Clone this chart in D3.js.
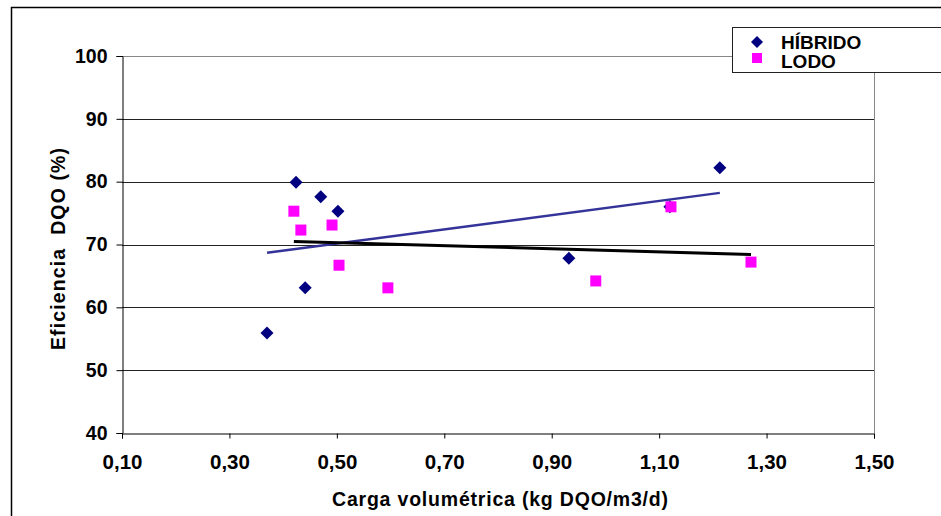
<!DOCTYPE html>
<html>
<head>
<meta charset="utf-8">
<script src="https://cdn.jsdelivr.net/npm/d3@7"></script>
<style>
  html, body { margin: 0; padding: 0; background: #fff; }
  svg { display: block; font-family: "Liberation Sans", Arial, sans-serif; font-weight: bold; }
</style>
</head>
<body>
<svg id="chart" width="941" height="516"></svg>
<script>
// Carga volumétrica (kg DQO/m3/d) vs eficiencia de remoción DQO (%)
const hibridoX = [0.370, 0.424, 0.470, 0.502, 0.441, 0.932, 1.120, 1.213];
const hibridoY = [55.9, 79.9, 77.6, 75.3, 63.1, 67.8, 76.0, 82.2];
const lodoX = [0.420, 0.433, 0.491, 0.504, 0.595, 0.982, 1.122, 1.271];
const lodoY = [75.3, 72.3, 73.1, 66.7, 63.1, 64.2, 76.0, 67.2];
const xTicks = [0.10, 0.30, 0.50, 0.70, 0.90, 1.10, 1.30, 1.50];
const yTicks = [40, 50, 60, 70, 80, 90, 100];
const seriesNames = ["HÍBRIDO", "LODO"];

const svg = d3.select("#chart");
const x = d3.scaleLinear().domain([0.1, 1.5]).range([122, 874]);
const y = d3.scaleLinear().domain([40, 100]).range([433, 56]);
const fmtX = v => d3.format(".2f")(v).replace(".", ",");
const FONT = "Liberation Sans, Arial, sans-serif";

// outer chart frame (left and top edges)
svg.append("path")
  .attr("d", "M11.5,516 V7.5 H941")
  .attr("fill", "none").attr("stroke", "#000").attr("stroke-width", 1.5);

// horizontal gridlines
svg.append("g").selectAll("line")
  .data(yTicks.filter(t => t > 40 && t < 100))
  .join("line")
  .attr("x1", x(0.1)).attr("x2", x(1.5))
  .attr("y1", d => Math.round(y(d)) + 0.5).attr("y2", d => Math.round(y(d)) + 0.5)
  .attr("stroke", "#222").attr("stroke-width", 1);

// plot area top and right border
svg.append("path")
  .attr("d", `M${x(0.1)},${Math.round(y(100)) + 0.5} H${Math.round(x(1.5)) + 0.5} V${y(40)}`)
  .attr("fill", "none").attr("stroke", "#888").attr("stroke-width", 1);

// axes
const yAxis = d3.axisLeft(y).tickValues(yTicks).tickSize(6).tickPadding(9).tickFormat(d3.format("d"));
const gy = svg.append("g").attr("transform", `translate(${Math.round(x(0.1)) + 0.5},0)`).call(yAxis);
gy.select(".domain").attr("stroke", "#000");
gy.selectAll(".tick line").attr("stroke", "#000");
gy.selectAll(".tick text").attr("font-size", 19.5).attr("font-weight", "bold")
  .attr("font-family", FONT).attr("fill", "#000");

const xAxis = d3.axisBottom(x).tickValues(xTicks).tickSize(5).tickPadding(16).tickFormat(fmtX);
const gx = svg.append("g").attr("transform", `translate(0,${Math.round(y(40)) + 0.5})`).call(xAxis);
gx.select(".domain").attr("stroke", "#000");
gx.selectAll(".tick line").attr("stroke", "#000");
gx.selectAll(".tick text").attr("font-size", 20.5).attr("font-weight", "bold")
  .attr("font-family", FONT).attr("fill", "#000");

// axis titles
svg.append("text")
  .attr("x", 500).attr("y", 506)
  .attr("text-anchor", "middle").attr("font-size", 19.5)
  .attr("textLength", 336).attr("lengthAdjust", "spacing")
  .text("Carga volumétrica (kg DQO/m3/d)");
svg.append("text")
  .attr("transform", "translate(65,249) rotate(-90)")
  .attr("text-anchor", "middle").attr("font-size", 19.5)
  .attr("textLength", 202).attr("lengthAdjust", "spacing")
  .attr("xml:space", "preserve")
  .text("Eficiencia  DQO (%)");

// least-squares linear trend over each series' x range
function trend(xs, ys) {
  const mx = d3.mean(xs), my = d3.mean(ys);
  let sxy = 0, sxx = 0;
  xs.forEach((v, i) => { sxy += (v - mx) * (ys[i] - my); sxx += (v - mx) ** 2; });
  const b = sxy / sxx, a = my - b * mx;
  const x0 = d3.min(xs), x1 = d3.max(xs);
  return [[x0, a + b * x0], [x1, a + b * x1]];
}
const line = d3.line().x(d => x(d[0])).y(d => y(d[1]));
svg.append("path").attr("d", line(trend(hibridoX, hibridoY)))
  .attr("fill", "none").attr("stroke", "#333399").attr("stroke-width", 2.5);
svg.append("path").attr("d", line(trend(lodoX, lodoY)))
  .attr("fill", "none").attr("stroke", "#000").attr("stroke-width", 3);

// markers
const diamond = (cx, cy, r) => `M${cx},${cy - r} L${cx + r},${cy} L${cx},${cy + r} L${cx - r},${cy} Z`;
svg.append("g").selectAll("path")
  .data(hibridoX.map((v, i) => [v, hibridoY[i]]))
  .join("path")
  .attr("d", d => diamond(x(d[0]), y(d[1]), 6.5))
  .attr("fill", "#000080");
svg.append("g").selectAll("rect")
  .data(lodoX.map((v, i) => [v, lodoY[i]]))
  .join("rect")
  .attr("x", d => x(d[0]) - 5.5).attr("y", d => y(d[1]) - 5.5)
  .attr("width", 11).attr("height", 11)
  .attr("fill", "#ff00ff");

// legend
const lg = svg.append("g");
lg.append("rect").attr("x", 732.5).attr("y", 27.5).attr("width", 230).attr("height", 45)
  .attr("fill", "#fff").attr("stroke", "#222").attr("stroke-width", 1);
lg.append("path").attr("d", diamond(757, 42, 6)).attr("fill", "#000080");
lg.append("rect").attr("x", 752).attr("y", 53).attr("width", 10).attr("height", 10).attr("fill", "#ff00ff");
lg.append("text").attr("x", 781).attr("y", 48.5).attr("font-size", 19).text(seriesNames[0]);
lg.append("text").attr("x", 781).attr("y", 67.5).attr("font-size", 19).text(seriesNames[1]);
</script>
</body>
</html>
